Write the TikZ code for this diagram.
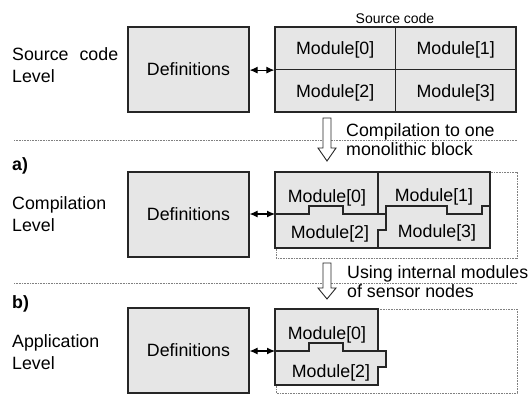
\documentclass[tikz,border=0pt]{standalone}
\usepackage{fontspec}
\setmainfont{Liberation Sans}
\usetikzlibrary{arrows.meta}
\definecolor{boxfill}{HTML}{E6E6E6}
\definecolor{edge}{HTML}{262626}
\newcommand\twoln[3]{\vtop{\baselineskip=#1\relax\hbox{#2}\hbox{#3}}}
\begin{document}
\begin{tikzpicture}[x=1pt,y=-1pt,
  font=\fontsize{17.8}{20}\selectfont,
  blk/.style={draw=edge, fill=boxfill, line width=1.2pt},
  defbox/.style={blk, minimum width=121pt, minimum height=85pt, inner sep=0pt},
  cell/.style={blk, minimum width=120.5pt, minimum height=42.5pt, inner sep=0pt, text height=13pt, text depth=0pt},
  lbl/.style={inner sep=0pt, anchor=base},
  txt/.style={inner sep=0pt, anchor=base west},
  sep/.style={draw=gray, dash pattern=on 0.8pt off 0.8pt, line width=0.8pt},
  inner/.style={draw=edge, line width=1.2pt},
  dbl/.style={{Latex[length=8pt,width=7pt]}-{Latex[length=8pt,width=7pt]}, line width=1.1pt, draw=black},
  hollow/.style={draw=edge, fill=white, line width=0.9pt, line join=miter}]
\useasboundingbox (0,0) rectangle (531,394);

% separators
\draw[sep] (14,140) -- (517,140);
\draw[sep] (14,283) -- (517,283);
\draw[sep] (276,172) rectangle (517,258);
\draw[sep] (276,309) rectangle (517,393);

% left labels
\node[txt] (l1) at (12,60) {\twoln{22pt}{\makebox[106pt][s]{Source code}}{Level}};
\node[txt, font=\fontsize{17.8}{20}\selectfont\bfseries] (la) at (12,170) {a)};
\node[txt] (l2) at (12,209) {\twoln{22pt}{Compilation}{Level}};
\node[txt, font=\fontsize{17.8}{20}\selectfont\bfseries] (lb) at (12,308) {b)};
\node[txt] (l3) at (12,347) {\twoln{22pt}{Application}{Level}};

% definitions
\node[defbox] (d1) at (188.5,69.5) {Definitions};
\node[defbox] (d2) at (188.5,214.5) {Definitions};
\node[defbox] (d3) at (188.5,350.5) {Definitions};

% source code grid
\node[lbl, font=\fontsize{14}{16}\selectfont] (sc) at (395,23) {Source code};
\node[cell] (m0) at (335.25,48.25) {Module[0]};
\node[cell] (m1) at (455.75,48.25) {Module[1]};
\node[cell] (m2) at (335.25,90.75) {Module[2]};
\node[cell] (m3) at (455.75,90.75) {Module[3]};
\coordinate (g1) at (m0.south west);
\draw[dbl] (d1.east |- g1) -- (g1);

% arrow 1
\draw[hollow] (323,118) -- (331,118) -- (331,148) -- (336,148) -- (327,161) -- (318,148) -- (323,148) -- cycle;
\node[txt] (t1) at (346,136) {\twoln{19pt}{Compilation to one}{monolithic block}};

% compilation block
\fill[boxfill] (275,172) rectangle (490,248);
\draw[inner] (275,172) rectangle (490,248);
\draw[inner] (378,172) -- (378,214);
\draw[inner] (275,214) -- (309,214) -- (309,206) -- (343,206) -- (343,214) -- (386,214) -- (386,230) -- (378,230) -- (378,248);
\draw[inner] (386,214) -- (386,206) -- (447,206) -- (447,214) -- (482,214) -- (482,206) -- (490,206);
\node[lbl] (c0) at (327,202) {Module[0]};
\node[lbl] (c1) at (434,201) {Module[1]};
\node[lbl] (c2) at (330,238) {Module[2]};
\node[lbl] (c3) at (437,237) {Module[3]};
\coordinate (g2) at (275,214);
\draw[dbl] (d2.east |- g2) -- (g2);

% arrow 2
\draw[hollow] (323,263) -- (331,263) -- (331,288) -- (336,288) -- (327,299) -- (318,288) -- (323,288) -- cycle;
\node[txt] (t2) at (347,278) {\twoln{19pt}{Using internal modules}{of sensor nodes}};

% application block
\draw[blk] (275,309) -- (378,309) -- (378,351) -- (386,351) -- (386,367) -- (378,367) -- (378,385) -- (275,385) -- cycle;
\draw[inner] (275,351) -- (309,351) -- (309,343) -- (343,343) -- (343,351) -- (378,351);
\node[lbl] (a0) at (327,339) {Module[0]};
\node[lbl] (a2) at (331,377) {Module[2]};
\coordinate (g3) at (275,351);
\draw[dbl] (d3.east |- g3) -- (g3);
\end{tikzpicture}
\end{document}
